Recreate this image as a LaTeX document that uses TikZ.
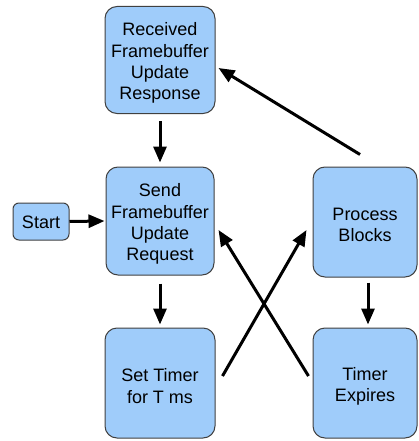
\documentclass[tikz,border=0pt]{standalone}
\usepackage{fontspec}
\setmainfont{Liberation Sans}
\usetikzlibrary{arrows.meta,calc}
\definecolor{boxfill}{HTML}{9FCCFA}
\definecolor{boxline}{HTML}{404040}
\tikzset{
  flowbox/.style={draw=boxline, line width=1pt, fill=boxfill, rounded corners=12pt, inner sep=0pt},
  boxtext/.style={align=center, inner sep=0pt, yshift=-3pt, font=\fontsize{18}{21.3}\selectfont},
  flowarrow/.style={line width=3pt, -{Triangle[length=16pt,width=13pt]}}
}
\begin{document}
\begin{tikzpicture}[x=1pt,y=-1pt]
\useasboundingbox (0,0) rectangle (418,441);
\node[flowbox, minimum width=110pt, minimum height=107pt,
  label={[boxtext]center:{Received\\Framebuffer\\Update\\Response}}] (r) at (160,60) {};
\node[flowbox, minimum width=108pt, minimum height=108pt,
  label={[boxtext]center:{Send\\Framebuffer\\Update\\Request}}] (s) at (160,221) {};
\node[flowbox, minimum width=56pt, minimum height=37pt, rounded corners=6pt,
  label={[boxtext, yshift=2pt]center:{Start}}] (st) at (41,221.5) {};
\node[flowbox, minimum width=104pt, minimum height=110pt,
  label={[boxtext]center:{Process\\Blocks}}] (p) at (365,222) {};
\node[flowbox, minimum width=110pt, minimum height=110pt,
  label={[boxtext]center:{Set Timer\\for T ms}}] (t) at (160,383) {};
\node[flowbox, minimum width=104pt, minimum height=110pt,
  label={[boxtext]center:{Timer\\Expires}}] (e) at (365,383) {};
\draw[flowarrow] ($(r.south)+(0,7)$) -- ($(s.north)+(0,-4)$);
\draw[flowarrow] (st.east) -- ($(s.west)+(-1,0)$);
\draw[flowarrow] ($(s.south)+(0,8)$) -- ($(t.north)+(0,-3)$);
\draw[flowarrow] ($(p.south)+(3,5)$) -- ($(e.north)+(3,-3)$);
\draw[flowarrow] ($(t.east)+(7,-7)$) -- ($(p.west)+(-6,8)$);
\draw[flowarrow] ($(e.west)+(-4,-7)$) -- ($(s.east)+(4,9)$);
\draw[flowarrow] ($(p.north)+(-5,-12)$) -- ($(r.east)+(3,8)$);
\end{tikzpicture}
\end{document}
